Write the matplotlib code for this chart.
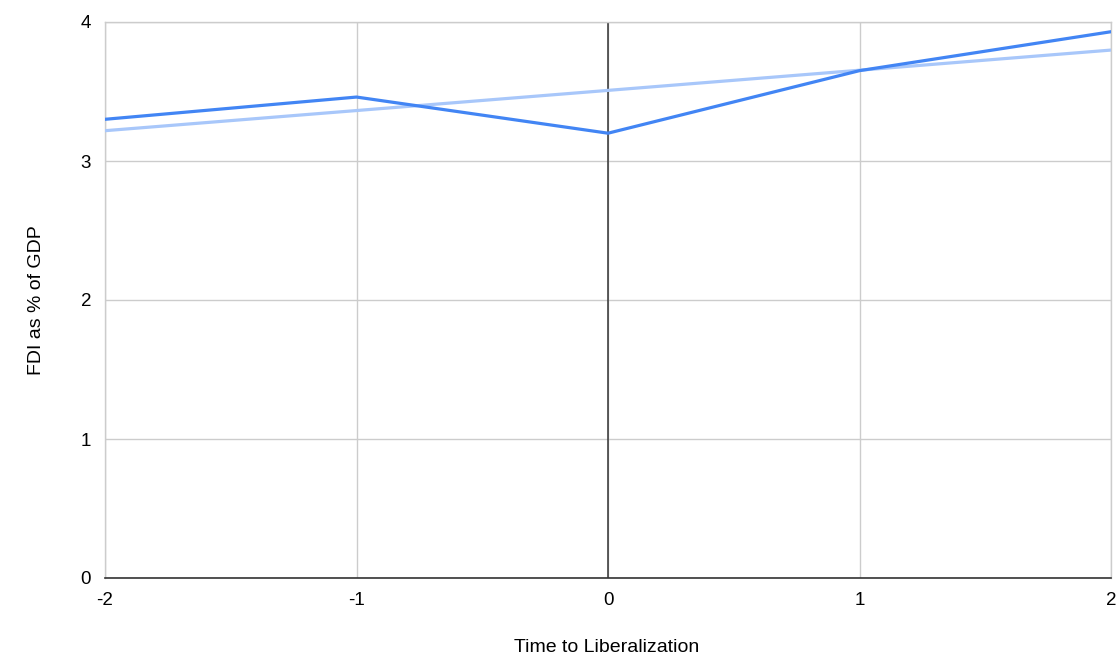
import matplotlib
matplotlib.use("Agg")
import matplotlib.pyplot as plt
import numpy as np

plt.rcParams['font.family'] = ['Liberation Sans', 'DejaVu Sans']

# data
years = [-2, -1, 0, 1, 2]
fdi = [3.30, 3.46, 3.20, 3.65, 3.93]
x_ticks = [-2, -1, 0, 1, 2]
y_ticks = [0, 1, 2, 3, 4]

# linear trendline over the series
slope, icpt = np.polyfit(years, fdi, 1)
trend_x = np.array([years[0], years[-1]])
trend_y = slope * trend_x + icpt

fig = plt.figure(figsize=(11.16, 6.56), dpi=100)
ax = fig.add_axes([105 / 1116, 1 - 578 / 656, (1111 - 105) / 1116, (578 - 22) / 656])

ax.plot(trend_x, trend_y, color='#a8c7fa', lw=2.3, solid_capstyle='butt', zorder=3)
ax.plot(years, fdi, color='#4285f4', lw=2.3, solid_joinstyle='miter', zorder=4)

ax.set_xlim(-2, 2)
ax.set_ylim(0, 4)
ax.set_xticks(x_ticks)
ax.set_yticks(y_ticks)
ax.set_xticklabels([str(t) for t in x_ticks], fontsize=13.5)
ax.set_yticklabels([str(t) for t in y_ticks], fontsize=13.5)
ax.tick_params(axis='y', length=0, pad=10)
ax.tick_params(axis='x', length=0, pad=10)

ax.grid(True, color='#cccccc', lw=1)
ax.set_axisbelow(True)
ax.axvline(0, color='#333333', lw=1.1, zorder=2)

for s in ['left', 'right', 'top']:
    ax.spines[s].set_color('#cccccc')
    ax.spines[s].set_linewidth(1)
ax.spines['bottom'].set_color('#333333')
ax.spines['bottom'].set_linewidth(1.2)

fig.text(607 / 1116, 1 - 647 / 656, 'Time to Liberalization', ha='center', va='center', fontsize=14)
fig.text(37 / 1116, 1 - 300 / 656, 'FDI as % of GDP', ha='center', va='center', rotation=90, fontsize=14)

fig.savefig('out.png', dpi=100)
